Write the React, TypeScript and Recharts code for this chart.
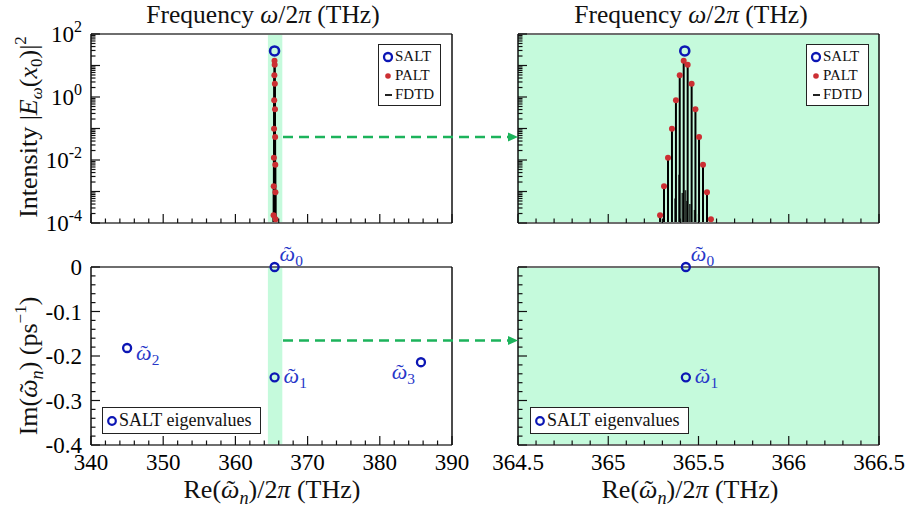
import React from "react";
import { ScatterChart, Scatter, XAxis, YAxis, ReferenceArea, ReferenceLine, Legend } from "recharts";

const W = 909;
const H = 512;
const FONT = '"Liberation Serif", "Times New Roman", serif';
const BLUE = "#0c16b4";
const LABEL_BLUE = "#2737c8";
const RED = "#cc2f33";
const BAND = "#c5fadc";
const ARROW = "#1cb35b";

// window (THz) that is blown up in the right-hand panels
const zoomBand = [364.5, 366.5];

// top row: intensity spectrum |E(x0)|^2
const saltFreq = [365.424];
const saltIntensity = [29];
const paltFreq = [365.287, 365.309, 365.331, 365.353, 365.375, 365.396, 365.418, 365.44, 365.462, 365.483, 365.503, 365.525, 365.547, 365.569];
const paltIntensity = [1.75e-4, 1.46e-3, 0.0118, 0.0986, 0.785, 4.89, 14.2, 10.6, 2.64, 0.407, 0.0537, 0.0071, 9.4e-4, 1.31e-4];
const fdtdFreq = [365.287, 365.309, 365.331, 365.353, 365.375, 365.396, 365.418, 365.44, 365.462, 365.483, 365.503, 365.525, 365.547, 365.569];
const fdtdPeak = [1.5e-4, 1.3e-3, 0.0105, 0.088, 0.7, 4.4, 13, 9.6, 2.4, 0.37, 0.048, 0.0063, 8.4e-4, 1.2e-4];
const fdtdNoiseFreq = [365.37, 365.392, 365.41, 365.428, 365.436, 365.452, 365.478];
const fdtdNoisePeak = [6e-4, 3.4e-3, 9e-4, 1.1e-3, 5e-4, 4e-4, 2.6e-4];

// bottom row: SALT eigenvalues
const eigenRe = [365.43, 365.43, 345.0, 385.7];
const eigenIm = [0, -0.248, -0.182, -0.214];
const eigenIndex = ["0", "1", "2", "3"];

// ticks
const wideMajor = [340, 350, 360, 370, 380, 390];
const zoomMajor = [364.5, 365, 365.5, 366, 366.5];
const imMajor = [0, -0.1, -0.2, -0.3, -0.4];
const decades = [1e-4, 1e-3, 1e-2, 1e-1, 1, 10, 100];
const labelledDecades = [1e-4, 1e-2, 1, 100];

const steps = (a: number, b: number, s: number) => {
  const out: number[] = [];
  const n = Math.round((b - a) / s);
  for (let i = 0; i <= n; i++) out.push(Math.round((a + i * s) * 1e4) / 1e4);
  return out;
};
const wideTicks = steps(340, 390, 2);
const zoomTicks = steps(364.5, 366.5, 0.1);
const imTicks = steps(-0.4, 0, 0.02);
const logTicks = decades.flatMap((d, i) =>
  i === decades.length - 1 ? [d] : [1, 2, 3, 4, 5, 6, 7, 8, 9].map((m) => m * d)
);

const near = (list: number[], v: number) =>
  list.some((m) => Math.abs(m - v) <= Math.max(1e-9, Math.abs(m) * 1e-6));

// plot-area edges of the four panels
const cols = { wide: { left: 91, right: 452 }, zoom: { left: 518, right: 879 } };
const rows = { spectrum: { top: 34, bottom: 223 }, eigen: { top: 267, bottom: 445 } };
const AX_W = 40;
const AX_H = 20;
const margins = (c: { left: number; right: number }, r: { top: number; bottom: number }) => ({
  top: r.top - AX_H,
  bottom: H - r.bottom - AX_H,
  left: c.left - AX_W,
  right: W - c.right - AX_W,
});

type Side = "top" | "bottom" | "left" | "right";

function tickMark(side: Side, majors: number[], label?: (v: number) => React.ReactNode) {
  return (props: any) => {
    const { x, y, payload } = props;
    const v = Number(payload.value);
    const len = near(majors, v) ? 9 : 4.5;
    const dx = side === "left" ? len : side === "right" ? -len : 0;
    const dy = side === "top" ? len : side === "bottom" ? -len : 0;
    const text = label ? label(v) : null;
    return (
      <g>
        <line x1={x} y1={y} x2={x + dx} y2={y + dy} stroke="#111" strokeWidth={1.2} />
        {text != null && side === "bottom" && (
          <text x={x} y={y + 25} textAnchor="middle" fontFamily={FONT} fontSize={23} fill="#000">
            {text}
          </text>
        )}
        {text != null && side === "left" && (
          <text x={x - 9} y={y + 8} textAnchor="end" fontFamily={FONT} fontSize={23} fill="#000">
            {text}
          </text>
        )}
      </g>
    );
  };
}

const wideLabel = (v: number) => (near(wideMajor, v) ? String(v) : null);
const zoomLabel = (v: number) => (near(zoomMajor, v) ? String(v) : null);
const imLabel = (v: number) => (near(imMajor, v) ? (Math.abs(v) < 1e-9 ? "0" : v.toFixed(1)) : null);
const logLabel = (v: number) =>
  near(labelledDecades, v) ? (
    <>
      10
      <tspan dy={-10} fontSize={16}>
        {Math.round(Math.log10(v))}
      </tspan>
    </>
  ) : null;

const frameDark = { stroke: "#111", strokeWidth: 1.5 };
const frameGrey = { stroke: "#6e6e6e", strokeWidth: 1.8 };

// omega with a tilde placed over it, then a subscript (baseline is left lowered by subShift)
const subShift = (size: number) => size * 0.22;
function OmegaTilde({ sub, size }: { sub: string; size: number }) {
  const wOmega = size * 0.67;
  const wTilde = size * 0.333;
  const back = wOmega / 2 + wTilde / 2;
  return (
    <>
      <tspan fontStyle="italic">ω</tspan>
      <tspan dx={-back}>˜</tspan>
      <tspan dx={wOmega - back} dy={subShift(size)} fontSize={size * 0.7} fontStyle={sub === "n" ? "italic" : "normal"}>
        {sub}
      </tspan>
    </>
  );
}

const eigenLabelPos: Record<string, { dx: number; dy: number; anchor: "start" | "end" }> = {
  "0": { dx: 5, dy: -6, anchor: "start" },
  "1": { dx: 9, dy: 6, anchor: "start" },
  "2": { dx: 9, dy: 12, anchor: "start" },
  "3": { dx: -6, dy: 17, anchor: "end" },
};

function EigenMark(props: any) {
  const { cx, cy, payload } = props;
  const pos = eigenLabelPos[payload.n];
  return (
    <g>
      <circle cx={cx} cy={cy} r={4} fill="none" stroke={BLUE} strokeWidth={2.3} />
      <text x={cx + pos.dx} y={cy + pos.dy} textAnchor={pos.anchor} fill={LABEL_BLUE} fontFamily={FONT} fontSize={22}>
        <OmegaTilde sub={payload.n} size={22} />
      </text>
    </g>
  );
}

const SaltMark = (p: any) => <circle cx={p.cx} cy={p.cy} r={4.5} fill="none" stroke={BLUE} strokeWidth={2.6} />;
const PaltMark = (p: any) => <circle cx={p.cx} cy={p.cy} r={3} fill={RED} />;

function SpectrumLegend() {
  const row = { display: "flex", alignItems: "center", height: 19 } as const;
  return (
    <div
      style={{
        background: "#fff",
        border: "1.5px solid #222",
        boxSizing: "border-box",
        width: 63,
        height: 62,
        padding: "2px 3px",
        fontFamily: FONT,
        fontSize: 15,
        color: "#111",
      }}
    >
      <div style={row}>
        <svg width={12} height={12} style={{ marginRight: 1 }}>
          <circle cx={6} cy={6} r={4} fill="none" stroke={BLUE} strokeWidth={2.3} />
        </svg>
        SALT
      </div>
      <div style={row}>
        <svg width={12} height={12} style={{ marginRight: 1 }}>
          <circle cx={6} cy={6} r={2.8} fill={RED} />
        </svg>
        PALT
      </div>
      <div style={row}>
        <svg width={12} height={12} style={{ marginRight: 1 }}>
          <line x1={3} x2={10} y1={6} y2={6} stroke="#222" strokeWidth={2} />
        </svg>
        FDTD
      </div>
    </div>
  );
}

function EigenLegend() {
  return (
    <div
      style={{
        background: "#fff",
        border: "1.5px solid #222",
        boxSizing: "border-box",
        width: 159,
        height: 27,
        padding: "0 3px",
        display: "flex",
        alignItems: "center",
        fontFamily: FONT,
        fontSize: 18,
        color: "#111",
      }}
    >
      <svg width={12} height={12} style={{ marginRight: 1 }}>
        <circle cx={6} cy={6} r={3.8} fill="none" stroke={BLUE} strokeWidth={2.2} />
      </svg>
      SALT eigenvalues
    </div>
  );
}

const saltData = saltFreq.map((x, i) => ({ x, y: saltIntensity[i] }));
const paltData = paltFreq.map((x, i) => ({ x, y: paltIntensity[i] }));
const eigenData = eigenRe.map((x, i) => ({ x, y: eigenIm[i], n: eigenIndex[i] }));

function xAxes(domain: number[], ticks: number[], majors: number[], label?: (v: number) => React.ReactNode) {
  return [
    <XAxis
      key="xb"
      type="number"
      dataKey="x"
      domain={domain}
      ticks={ticks}
      interval={0}
      height={AX_H}
      tickSize={0}
      tickMargin={0}
      tick={tickMark("bottom", majors, label)}
      axisLine={frameGrey}
    />,
    <XAxis
      key="xt"
      xAxisId="top"
      orientation="top"
      type="number"
      domain={domain}
      ticks={ticks}
      interval={0}
      height={AX_H}
      tickSize={0}
      tickMargin={0}
      tick={tickMark("top", majors)}
      axisLine={frameGrey}
    />,
  ];
}

function SpectrumPanel({ zoomed }: { zoomed: boolean }) {
  const col = zoomed ? cols.zoom : cols.wide;
  const domain = zoomed ? [zoomBand[0], zoomBand[1]] : [wideMajor[0], wideMajor[wideMajor.length - 1]];
  const ticks = zoomed ? zoomTicks : wideTicks;
  const majors = zoomed ? zoomMajor : wideMajor;
  const yDomain = [decades[0], decades[decades.length - 1]];
  return (
    <div style={{ position: "absolute", left: 0, top: 0 }}>
      <ScatterChart width={W} height={H} margin={margins(col, rows.spectrum)}>
        {xAxes(domain, ticks, majors)}
        <YAxis
          type="number"
          dataKey="y"
          scale="log"
          domain={yDomain}
          ticks={logTicks}
          interval={0}
          width={AX_W}
          tickSize={0}
          tickMargin={0}
          tick={tickMark("left", decades, zoomed ? undefined : logLabel)}
          axisLine={frameDark}
        />
        <YAxis
          yAxisId="right"
          orientation="right"
          type="number"
          scale="log"
          domain={yDomain}
          ticks={logTicks}
          interval={0}
          width={AX_W}
          tickSize={0}
          tickMargin={0}
          tick={tickMark("right", decades)}
          axisLine={frameDark}
        />
        <ReferenceArea x1={zoomBand[0]} x2={zoomBand[1]} fill={BAND} fillOpacity={1} stroke="none" />
        {fdtdNoiseFreq.map((f, i) => (
          <ReferenceLine
            key={"n" + i}
            segment={[
              { x: f, y: decades[0] },
              { x: f, y: fdtdNoisePeak[i] },
            ]}
            stroke="#111"
            strokeOpacity={0.85}
            strokeWidth={1.6}
          />
        ))}
        {fdtdFreq.map((f, i) => (
          <ReferenceLine
            key={"f" + i}
            segment={[
              { x: f, y: decades[0] },
              { x: f, y: fdtdPeak[i] },
            ]}
            stroke="#000"
            strokeWidth={2}
          />
        ))}
        <Scatter name="PALT" data={paltData} shape={PaltMark} isAnimationActive={false} />
        <Scatter name="SALT" data={saltData} shape={SaltMark} isAnimationActive={false} />
        <Legend
          layout="vertical"
          align="center"
          verticalAlign="middle"
          content={SpectrumLegend}
          wrapperStyle={{ left: zoomed ? 806 : 378, top: 44, width: 63, height: 62 }}
        />
      </ScatterChart>
    </div>
  );
}

function EigenPanel({ zoomed }: { zoomed: boolean }) {
  const col = zoomed ? cols.zoom : cols.wide;
  const domain = zoomed ? [zoomBand[0], zoomBand[1]] : [wideMajor[0], wideMajor[wideMajor.length - 1]];
  const ticks = zoomed ? zoomTicks : wideTicks;
  const majors = zoomed ? zoomMajor : wideMajor;
  const data = eigenData.filter((d) => d.x >= domain[0] && d.x <= domain[1]);
  const yDomain = [imMajor[imMajor.length - 1], imMajor[0]];
  return (
    <div style={{ position: "absolute", left: 0, top: 0 }}>
      <ScatterChart width={W} height={H} margin={margins(col, rows.eigen)}>
        {xAxes(domain, ticks, majors, zoomed ? zoomLabel : wideLabel)}
        <YAxis
          type="number"
          dataKey="y"
          domain={yDomain}
          ticks={imTicks}
          interval={0}
          width={AX_W}
          tickSize={0}
          tickMargin={0}
          tick={tickMark("left", imMajor, zoomed ? undefined : imLabel)}
          axisLine={frameDark}
        />
        <YAxis
          yAxisId="right"
          orientation="right"
          type="number"
          domain={yDomain}
          ticks={imTicks}
          interval={0}
          width={AX_W}
          tickSize={0}
          tickMargin={0}
          tick={tickMark("right", imMajor)}
          axisLine={frameDark}
        />
        <ReferenceArea x1={zoomBand[0]} x2={zoomBand[1]} fill={BAND} fillOpacity={1} stroke="none" />
        <Scatter name="SALT eigenvalues" data={data} shape={EigenMark} isAnimationActive={false} />
        <Legend
          layout="vertical"
          align="center"
          verticalAlign="middle"
          content={EigenLegend}
          wrapperStyle={{ left: zoomed ? 530 : 102, top: 407, width: 159, height: 27 }}
        />
      </ScatterChart>
    </div>
  );
}

function Annotations() {
  const sub = 17;
  const lbl = 26;
  return (
    <svg width={W} height={H} style={{ position: "absolute", left: 0, top: 0, pointerEvents: "none" }}>
      {[263, 691].map((cx) => (
        <text key={cx} x={cx} y={23} textAnchor="middle" fontFamily={FONT} fontSize={25.5} fill="#111">
          Frequency <tspan fontStyle="italic">ω</tspan>/2<tspan fontStyle="italic">π</tspan> (THz)
        </text>
      ))}
      <text transform="translate(37,127) rotate(-90)" textAnchor="middle" fontFamily={FONT} fontSize={lbl} fill="#111">
        Intensity |<tspan fontStyle="italic">E</tspan>
        <tspan fontStyle="italic" fontSize={sub} dy={5}>ω</tspan>
        <tspan dy={-5}>(</tspan>
        <tspan fontStyle="italic">x</tspan>
        <tspan fontSize={sub} dy={5}>0</tspan>
        <tspan dy={-5}>)|</tspan>
        <tspan fontSize={sub} dy={-11}>2</tspan>
      </text>
      <text transform="translate(37,366) rotate(-90)" textAnchor="middle" fontFamily={FONT} fontSize={lbl} fill="#111">
        Im(<OmegaTilde sub="n" size={lbl} />
        <tspan dy={-subShift(lbl)}>) (ps</tspan>
        <tspan fontSize={sub} dy={-11}>−1</tspan>
        <tspan dy={11}>)</tspan>
      </text>
      {[272, 690].map((cx) => (
        <text key={cx} x={cx} y={498} textAnchor="middle" fontFamily={FONT} fontSize={lbl} fill="#111">
          Re(<OmegaTilde sub="n" size={lbl} />
          <tspan dy={-subShift(lbl)}>)/2</tspan>
          <tspan fontStyle="italic">π</tspan> (THz)
        </text>
      ))}
      {[137, 340.5].map((y) => (
        <g key={y}>
          <line x1={283} x2={509} y1={y} y2={y} stroke={ARROW} strokeWidth={2.5} strokeDasharray="10 6" />
          <polygon points={`508,${y - 4.5} 518,${y} 508,${y + 4.5}`} fill={ARROW} />
        </g>
      ))}
    </svg>
  );
}

export default function App() {
  return (
    <div style={{ position: "relative", width: W, height: H, background: "#fff" }}>
      <style>{"body{margin:0}"}</style>
      <SpectrumPanel zoomed={false} />
      <SpectrumPanel zoomed={true} />
      <EigenPanel zoomed={false} />
      <EigenPanel zoomed={true} />
      <Annotations />
    </div>
  );
}
